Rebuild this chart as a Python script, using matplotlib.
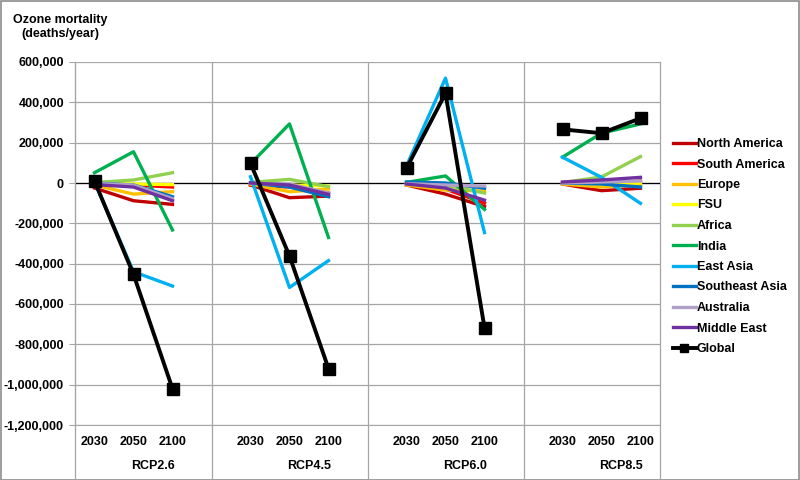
import numpy as np
import matplotlib
matplotlib.use('Agg')
import matplotlib.pyplot as plt
from matplotlib.lines import Line2D
from matplotlib.patches import Rectangle

plt.rcParams['font.family'] = ['Liberation Sans', 'DejaVu Sans']
plt.rcParams['font.weight'] = 'bold'

# values in deaths/year, 3 years x 4 scenarios
years = ['2030', '2050', '2100']
scenarios = ['RCP2.6', 'RCP4.5', 'RCP6.0', 'RCP8.5']

north_america = [-25000, -88000, -106000, -10000, -73000, -65000, -10000, -55000, -117000, -5000, -38000, -26000]
south_america = [-5000, -10000, -20000, -10000, -20000, -50000, -5000, -30000, -100000, 0, -15000, 10000]
europe = [-10000, -55000, -43000, -5000, -43000, -30000, -10000, -35000, -40000, -5000, -20000, -10000]
fsu = [-2000, -5000, -8000, -3000, -10000, -15000, -5000, -15000, -20000, 0, -5000, 0]
africa = [2000, 15000, 51000, 3000, 18000, -18000, 2000, -10000, -50000, 2000, 30000, 131000]
india = [51000, 155000, -233000, 95000, 293000, -270000, 3000, 35000, -131000, 128000, 247000, 293000]
east_asia = [5000, -440000, -511000, 31000, -518000, -385000, 85000, 520000, -246000, 128000, 28000, -101000]
southeast_asia = [0, -10000, -68000, 0, -20000, -68000, 5000, 0, -26000, 0, -5000, -20000]
australia = [-2000, -10000, -78000, -2000, -5000, -50000, -3000, -10000, -15000, 0, 5000, 10000]
middle_east = [-8000, -20000, -88000, 0, -10000, -56000, -5000, -25000, -85000, 5000, 15000, 28000]
global_total = [10000, -453000, -1020000, 98000, -362000, -920000, 73000, 445000, -718000, 266000, 247000, 321000]

series = [
    ('North America', north_america, '#C00000'),
    ('South America', south_america, '#FF0000'),
    ('Europe', europe, '#FFC000'),
    ('FSU', fsu, '#FFFF00'),
    ('Africa', africa, '#92D050'),
    ('India', india, '#00B050'),
    ('East Asia', east_asia, '#00B0F0'),
    ('Southeast Asia', southeast_asia, '#0070C0'),
    ('Australia', australia, '#B1A0C7'),
    ('Middle East', middle_east, '#7030A0'),
]


def spread(vals):
    # 4 slots per scenario, last one left empty so lines break between groups
    out = np.full(15, np.nan)
    for g in range(4):
        out[4 * g:4 * g + 3] = vals[3 * g:3 * g + 3]
    return out


x = np.arange(15) + 0.5

fig = plt.figure(figsize=(8, 4.8), dpi=100)
ax = fig.add_axes([75 / 800, 55 / 480, 585 / 800, 363 / 480])

grid_c = '#A6A6A6'
for name, vals, col in series:
    ax.plot(x, spread(vals), color=col, lw=2.4, label=name, zorder=3)
ax.plot(x, spread(global_total), color='black', lw=2.8, marker='s', ms=8,
        label='Global', zorder=4)

ax.axhline(0, color='black', lw=0.9, zorder=2)
ax.set_xlim(0, 15)
ax.set_ylim(-1200000, 600000)
ax.set_yticks(np.arange(-1200000, 600001, 200000))
ax.set_yticklabels([f'{int(v):,}' for v in np.arange(-1200000, 600001, 200000)], fontsize=9)
ax.yaxis.grid(True, color=grid_c, lw=0.9)
ax.tick_params(axis='y', length=4, color=grid_c, pad=4)

tick_pos = [4 * g + i + 0.5 for g in range(4) for i in range(3)]
ax.set_xticks(tick_pos)
ax.set_xticklabels(years * 4, fontsize=9)
ax.tick_params(axis='x', length=0, pad=8)

for s in ['top', 'right']:
    ax.spines[s].set_visible(False)
ax.spines['left'].set_color(grid_c)
ax.spines['bottom'].set_color(grid_c)

# group separators running down through the label area
trans = ax.get_xaxis_transform()
for xs in [0, 3.5, 7.5, 11.5, 15]:
    ax.add_line(Line2D([xs, xs], [1, -0.146], transform=trans, color=grid_c,
                       lw=0.9, clip_on=False, zorder=1))

for g, name in enumerate(scenarios):
    ax.text(4 * g + 2.0, -0.113, name, transform=trans, ha='center', va='center',
            fontsize=9)

fig.text(0.075, 0.944, 'Ozone mortality\n(deaths/year)', ha='center', va='center',
         fontsize=9, multialignment='center', linespacing=1.3)

fig.legend(loc='upper left', bbox_to_anchor=(668 / 800, 1 - 133 / 480), frameon=False,
           fontsize=9, handlelength=1.8, handletextpad=0.1, labelspacing=0.68,
           borderaxespad=0, markerscale=0.7)

fig.add_artist(Rectangle((0.001, 0.001), 0.998, 0.997, transform=fig.transFigure,
                         fill=False, edgecolor='#8C8C8C', lw=1.2))

fig.savefig('out.png', dpi=100)
